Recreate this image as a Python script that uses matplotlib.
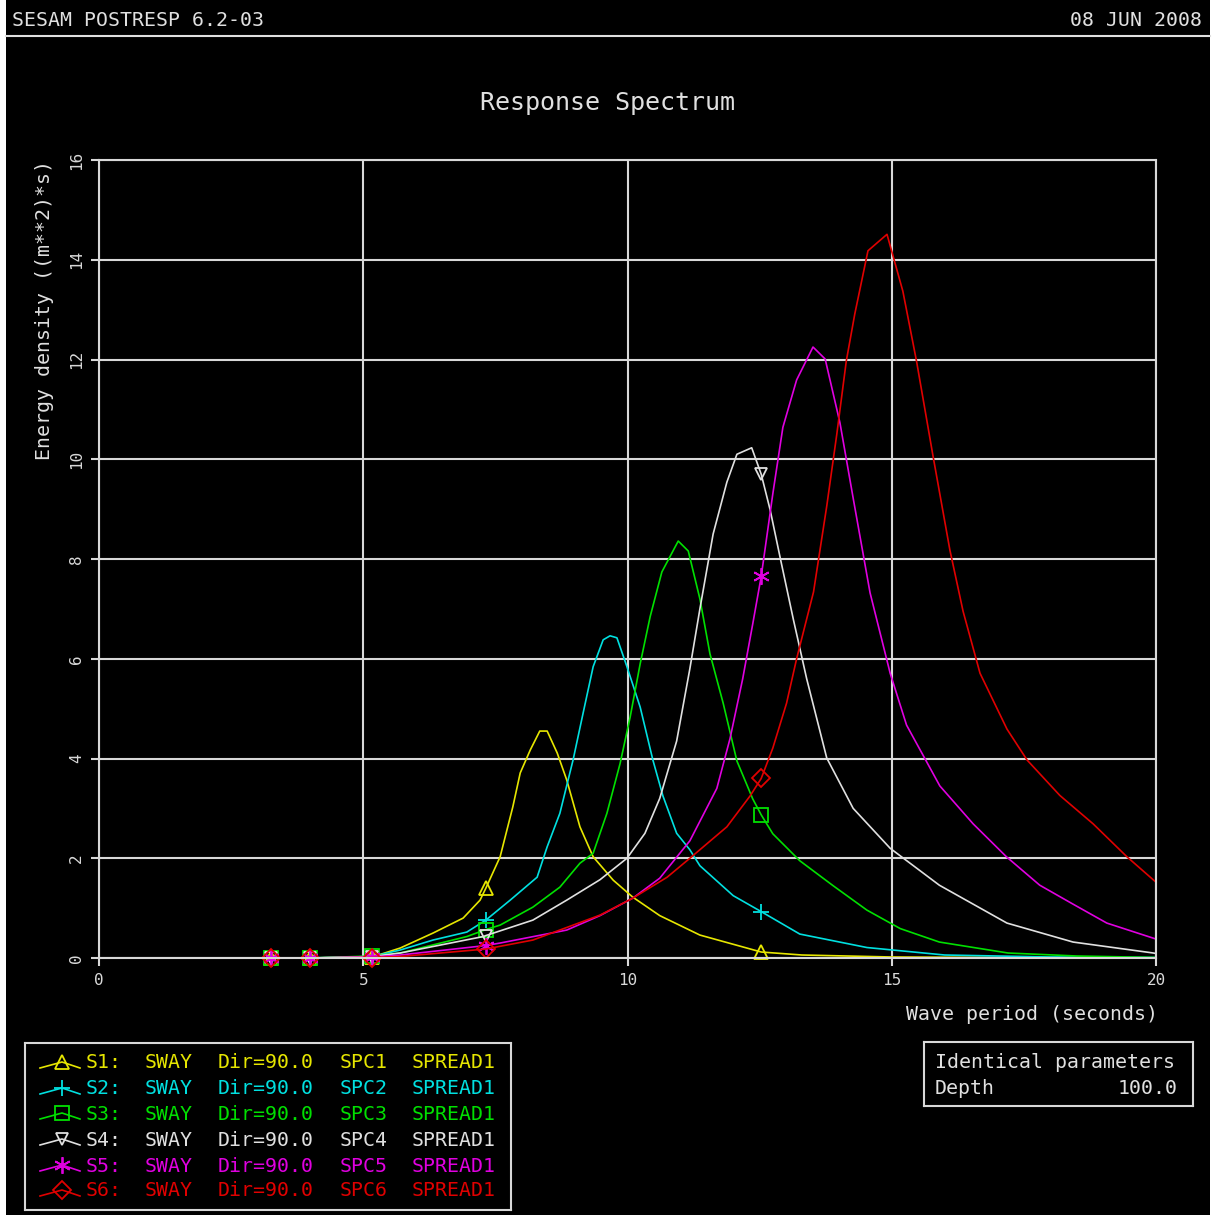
import numpy as np
import matplotlib
matplotlib.use("Agg")
import matplotlib.pyplot as plt
from matplotlib.lines import Line2D
from matplotlib.patches import Rectangle

W, H = 1212, 1215

# marker periods shared by all curves
mark_t = [3.25, 3.99, 5.17, 7.32, 12.53]

t1 = [3.0, 3.25, 3.99, 5.17, 5.7, 6.32, 6.89, 7.21, 7.32, 7.59, 7.83, 7.97, 8.16, 8.34, 8.48,
      8.67, 8.85, 9.10, 9.35, 9.73, 10.1, 10.61, 11.37, 12.53, 13.3, 15.0, 17.0, 20.0]
e1 = [0, 0, 0, 0.02, 0.2, 0.5, 0.8, 1.16, 1.4, 2.03, 3.03, 3.71, 4.17, 4.55, 4.55,
      4.11, 3.57, 2.63, 2.03, 1.56, 1.22, 0.85, 0.46, 0.12, 0.06, 0.02, 0.01, 0.0]

t2 = [3.0, 3.25, 3.99, 5.17, 5.7, 6.32, 6.96, 7.32, 7.78, 8.29, 8.48, 8.72, 8.97, 9.16, 9.35,
      9.54, 9.67, 9.80, 9.99, 10.24, 10.48, 10.67, 10.93, 11.18, 11.37, 12.0, 12.53, 13.26,
      14.53, 16.0, 18.0, 20.0]
e2 = [0, 0, 0, 0.03, 0.16, 0.36, 0.52, 0.76, 1.16, 1.62, 2.23, 2.9, 3.97, 4.91, 5.84,
      6.38, 6.46, 6.42, 5.84, 5.03, 3.97, 3.25, 2.5, 2.17, 1.85, 1.25, 0.93, 0.48,
      0.21, 0.06, 0.02, 0.01]

t3 = [3.0, 3.25, 3.99, 5.17, 5.7, 6.96, 7.32, 7.59, 8.21, 8.72, 9.10, 9.35, 9.61, 9.86, 10.05,
      10.24, 10.43, 10.65, 10.96, 11.15, 11.37, 11.56, 11.81, 12.07, 12.37, 12.53, 12.75,
      13.26, 13.89, 14.53, 15.16, 15.9, 17.2, 18.5, 20.0]
e3 = [0, 0, 0, 0.04, 0.1, 0.43, 0.57, 0.66, 1.02, 1.42, 1.9, 2.1, 2.9, 3.9, 4.83,
      5.9, 6.85, 7.74, 8.36, 8.16, 7.2, 6.1, 5.11, 3.95, 3.19, 2.87, 2.49,
      1.95, 1.45, 0.96, 0.59, 0.32, 0.1, 0.04, 0.01]

t4 = [3.0, 3.25, 3.99, 5.17, 5.7, 7.27, 7.32, 8.21, 8.85, 9.48, 9.99, 10.33, 10.61, 10.93,
      11.18, 11.37, 11.62, 11.88, 12.07, 12.35, 12.53, 12.7, 12.89, 13.14, 13.39, 13.77,
      14.27, 14.97, 15.9, 17.18, 18.43, 19.95, 20.0]
e4 = [0, 0, 0, 0.03, 0.1, 0.43, 0.45, 0.76, 1.16, 1.57, 2.0, 2.5, 3.2, 4.35,
      5.8, 7.0, 8.5, 9.54, 10.1, 10.23, 9.7, 8.98, 8.02, 6.78, 5.6, 4.01,
      3.0, 2.2, 1.46, 0.70, 0.32, 0.1, 0.09]

t5 = [3.0, 3.25, 3.99, 5.17, 5.7, 7.32, 7.59, 8.85, 9.48, 10.1, 10.61, 11.18, 11.69, 11.94,
      12.18, 12.37, 12.53, 12.75, 12.94, 13.2, 13.51, 13.74, 14.02, 14.27, 14.59, 14.97,
      15.28, 15.91, 16.54, 17.17, 17.8, 18.43, 19.07, 20.0]
e5 = [0, 0, 0, 0.02, 0.06, 0.25, 0.3, 0.56, 0.85, 1.2, 1.6, 2.35, 3.4, 4.4,
      5.6, 6.7, 7.65, 9.31, 10.64, 11.59, 12.25, 12.01, 10.73, 9.22, 7.32, 5.71,
      4.67, 3.45, 2.69, 2.03, 1.46, 1.08, 0.70, 0.38]

t6 = [3.0, 3.25, 3.99, 5.17, 5.7, 7.32, 8.21, 9.48, 10.1, 10.75, 11.18, 11.88, 12.32, 12.53,
      12.75, 13.01, 13.2, 13.52, 13.77, 13.96, 14.14, 14.30, 14.55, 14.91, 15.21, 15.47,
      15.78, 16.1, 16.35, 16.67, 17.18, 17.56, 18.18, 18.81, 19.45, 20.0]
e6 = [0, 0, 0, 0.01, 0.03, 0.18, 0.36, 0.86, 1.2, 1.62, 2.0, 2.63, 3.25, 3.6,
      4.21, 5.11, 6.0, 7.34, 9.06, 10.5, 11.97, 12.91, 14.18, 14.51, 13.37, 11.96,
      10.07, 8.18, 6.95, 5.71, 4.59, 3.97, 3.26, 2.69, 2.03, 1.52]

names = ["S1:", "S2:", "S3:", "S4:", "S5:", "S6:"]
spectra = ["SPC1", "SPC2", "SPC3", "SPC4", "SPC5", "SPC6"]
colors = ["#e6e600", "#00e0e0", "#00e000", "#e0e0e0", "#e000e0", "#e00000"]
markers = ["^", "+", "s", "v", (6, 2, 0), "D"]
msizes = [10, 12, 10, 9, 12, 9]

periods = [t1, t2, t3, t4, t5, t6]
energy = [e1, e2, e3, e4, e5, e6]

FONT = "DejaVu Sans Mono"
FG = "#e0e0e0"
FS = 14.3

fig = plt.figure(figsize=(W / 100, H / 100), dpi=100, facecolor="white")
fig.patches.append(Rectangle((6 / W, 0), (1210 - 6) / W, 1, transform=fig.transFigure,
                             facecolor="black", edgecolor="none", zorder=-10))

# header
fig.text(12 / W, 1 - 20 / H, "SESAM POSTRESP 6.2-03", color=FG, family=FONT, fontsize=FS,
         ha="left", va="center")
fig.text(1202 / W, 1 - 20 / H, "08 JUN 2008", color=FG, family=FONT, fontsize=FS,
         ha="right", va="center")
fig.add_artist(Line2D([6 / W, 1210 / W], [1 - 36 / H, 1 - 36 / H], color=FG, lw=1.5,
                      transform=fig.transFigure))
fig.text(607 / W, 1 - 103 / H, "Response Spectrum", color=FG, family=FONT, fontsize=18,
         ha="center", va="center")

ax = fig.add_axes([99 / W, 1 - 958 / H, (1156 - 99) / W, (958 - 160) / H])
ax.set_facecolor("black")
ax.set_xlim(0, 20)
ax.set_ylim(0, 16)
ax.set_xticks(np.arange(0, 21, 5))
ax.set_yticks(np.arange(0, 17, 2))
ax.grid(True, color="#d8d8d8", lw=1.5)
for s in ax.spines.values():
    s.set_color("#d8d8d8")
    s.set_linewidth(1.5)
ax.tick_params(colors="#d8d8d8", length=6, width=1.5, labelsize=11.5, pad=5)
for lab in ax.get_xticklabels():
    lab.set_family(FONT)
for lab in ax.get_yticklabels():
    lab.set_family(FONT)
    lab.set_rotation(90)
    lab.set_va("center")

for t, e, c, m, ms in zip(periods, energy, colors, markers, msizes):
    idx = [i for i, v in enumerate(t) if v in mark_t]
    ax.plot(t, e, color=c, lw=1.2, marker=m, markevery=idx, ms=ms, mfc="none",
            mec=c, mew=1.3, clip_on=False)

fig.text(1158 / W, 1 - 1014 / H, "Wave period (seconds)", color=FG, family=FONT,
         fontsize=FS, ha="right", va="center")
fig.text(45 / W, 1 - 160 / H, "Energy density ((m**2)*s)", color=FG, family=FONT,
         fontsize=FS, rotation=90, ha="center", va="top")

# legend box
lax = fig.add_axes([25 / W, 1 - 1210 / H, (511 - 25) / W, (1210 - 1043) / H])
lax.set_facecolor("black")
lax.set_xlim(0, 486)
lax.set_ylim(167, 0)
lax.set_xticks([])
lax.set_yticks([])
for s in lax.spines.values():
    s.set_color("#d8d8d8")
    s.set_linewidth(1.5)
rows_y = [20, 46, 71, 97, 123, 148]
cols_x = [61, 120, 193, 315, 387]
for ry, n, sp, c, m, ms in zip(rows_y, names, spectra, colors, markers, msizes):
    lax.plot([15, 37, 55], [ry + 5, ry - 1, ry + 5], color=c, lw=1.2)
    lax.plot([37], [ry - 1], color=c, marker=m, ms=ms, mfc="none", mec=c, mew=1.3)
    for cx, txt in zip(cols_x, [n, "SWAY", "Dir=90.0", sp, "SPREAD1"]):
        lax.text(cx, ry, txt, color=c, family=FONT, fontsize=FS, ha="left", va="center")

# parameters box
pax = fig.add_axes([924 / W, 1 - 1106 / H, (1193 - 924) / W, (1106 - 1042) / H])
pax.set_facecolor("black")
pax.set_xlim(0, 269)
pax.set_ylim(64, 0)
pax.set_xticks([])
pax.set_yticks([])
for s in pax.spines.values():
    s.set_color("#d8d8d8")
    s.set_linewidth(1.5)
pax.text(11, 21, "Identical parameters", color=FG, family=FONT, fontsize=FS, va="center")
pax.text(11, 46, "Depth", color=FG, family=FONT, fontsize=FS, va="center")
pax.text(254, 46, "100.0", color=FG, family=FONT, fontsize=FS, va="center", ha="right")

fig.savefig("out.png", dpi=100, facecolor=fig.get_facecolor())
